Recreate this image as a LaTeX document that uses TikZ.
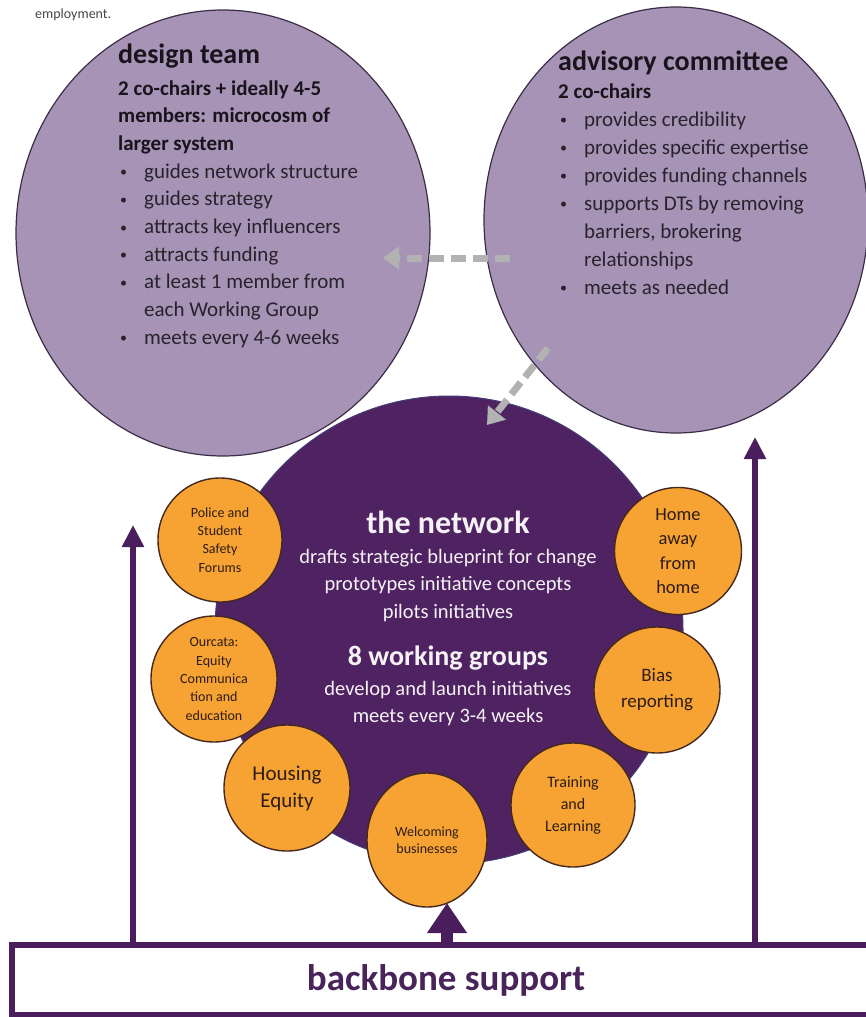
\documentclass[tikz,border=0pt]{standalone}
\usepackage{fontspec}
\setmainfont{Carlito}
\usetikzlibrary{shapes.geometric,arrows.meta}
\definecolor{lav}{RGB}{166,147,181}
\definecolor{lavline}{RGB}{60,45,70}
\definecolor{netc}{RGB}{79,34,97}
\definecolor{netedge}{RGB}{70,62,118}
\definecolor{org}{RGB}{246,163,51}
\definecolor{orgline}{RGB}{70,40,30}
\definecolor{orgtext}{RGB}{45,28,20}
\definecolor{purp}{RGB}{74,30,92}
\definecolor{bbtext}{RGB}{72,36,90}
\definecolor{greyc}{RGB}{178,178,178}
\definecolor{darktxt}{RGB}{25,20,28}
\definecolor{bodytxt}{RGB}{40,34,44}
\definecolor{captxt}{RGB}{70,70,70}
\definecolor{nettxt}{RGB}{245,242,246}
\newcommand{\bul}{\makebox[24pt][l]{\raisebox{1.5pt}{\fontsize{14}{14}\selectfont\textbullet}}}
\begin{document}
\begin{tikzpicture}[x=1pt,y=-1pt,
  lavender/.style={ellipse, fill=lav, draw=lavline, line width=1.2pt, inner sep=0pt},
  orangec/.style={circle, fill=org, draw=orgline, line width=1.4pt, inner sep=0pt, align=center, text=orgtext},
  headtxt/.style={anchor=base west, inner sep=0pt, font=\fontsize{28}{30}\selectfont\bfseries, text=darktxt},
  subtxt/.style={anchor=base west, inner sep=0pt, font=\fontsize{21}{25}\selectfont\bfseries, text=darktxt},
  bultxt/.style={anchor=base west, inner sep=0pt, font=\fontsize{21}{25}\selectfont, text=bodytxt},
  nethead/.style={anchor=base, inner sep=0pt, font=\fontsize{32}{34}\selectfont\bfseries, text=nettxt},
  netsub/.style={anchor=base, inner sep=0pt, font=\fontsize{28}{30}\selectfont\bfseries, text=nettxt},
  netline/.style={anchor=base, inner sep=0pt, font=\fontsize{20.5}{24}\selectfont, text=nettxt},
  greydash/.style={draw=greyc, line width=7pt, dash pattern=on 15pt off 7pt, -{Triangle[width=22pt,length=16pt]}},
  purparrow/.style={draw=purp, line width=6pt, -{Triangle[width=21pt,length=22pt]}}
]
\useasboundingbox (0,0) rectangle (866,1017);
\fill[white] (0,0) rectangle (866,1017);

% caption fragment
\node[anchor=base west, inner sep=0pt, font=\fontsize{14}{16}\selectfont, text=captxt] (cap) at (35,18) {employment.};

% the network
\node[circle, minimum size=468pt, fill=netc, draw=netedge, line width=1pt, inner sep=0pt] (net) at (449,630) {};

% design team
\node[lavender, minimum width=414pt, minimum height=446pt] (dt) at (223,233) {};
\node[headtxt] (dt0) at (118,63) {design team};
\node[subtxt] (dt1) at (118,95) {2 co-chairs + ideally 4-5};
\node[subtxt] (dt2) at (118,122.7) {members: microcosm of};
\node[subtxt] (dt3) at (118,150.4) {larger system};
\node[bultxt] (dt4) at (120,178.1) {\bul guides network structure};
\node[bultxt] (dt5) at (120,205.8) {\bul guides strategy};
\node[bultxt] (dt6) at (120,233.5) {\bul attracts key influencers};
\node[bultxt] (dt7) at (120,261.2) {\bul attracts funding};
\node[bultxt] (dt8) at (120,288.9) {\bul at least 1 member from};
\node[bultxt] (dt9) at (144,316.6) {each Working Group};
\node[bultxt] (dt10) at (120,344.3) {\bul meets every 4-6 weeks};

% advisory committee
\node[lavender, minimum width=384pt, minimum height=426pt] (ac) at (676,220) {};
\node[headtxt] (ac0) at (558,70) {advisory committee};
\node[subtxt] (ac1) at (558,98) {2 co-chairs};
\node[bultxt] (ac2) at (560,126) {\bul provides credibility};
\node[bultxt] (ac3) at (560,154) {\bul provides specific expertise};
\node[bultxt] (ac4) at (560,182) {\bul provides funding channels};
\node[bultxt] (ac5) at (560,210) {\bul supports DTs by removing};
\node[bultxt] (ac6) at (584,238) {barriers, brokering};
\node[bultxt] (ac7) at (584,266) {relationships};
\node[bultxt] (ac8) at (560,294) {\bul meets as needed};

% grey dashed connectors
\coordinate (h1) at (510,258);
\coordinate (h2) at (383,258);
\coordinate (d1) at (548,348);
\coordinate (d2) at (487,425);
\draw[greydash] (h1) -- (h2);
\draw[greydash] (d1) -- (d2);

% network text
\node[nethead] (n0) at (448,533) {the network};
\node[netline] (n1) at (448,563) {drafts strategic blueprint for change};
\node[netline] (n2) at (448,590) {prototypes initiative concepts};
\node[netline] (n3) at (448,618) {pilots initiatives};
\node[netsub] (n4) at (448,665) {8 working groups};
\node[netline] (n5) at (448,695) {develop and launch initiatives};
\node[netline] (n6) at (448,722) {meets every 3-4 weeks};

% working group circles
\node[orangec, minimum size=124pt, font=\fontsize{14}{18.3}\selectfont] (wg1) at (220,540) {Police and\\Student\\Safety\\Forums};
\node[orangec, minimum size=126pt, font=\fontsize{14}{18.3}\selectfont] (wg2) at (214,679) {Ourcata:\\Equity\\Communica\\tion and\\education};
\node[orangec, minimum size=126pt, font=\fontsize{21}{27}\selectfont] (wg3) at (287,788) {Housing\\Equity};
\node[orangec, ellipse, minimum width=120pt, minimum height=134pt, font=\fontsize{14}{17.5}\selectfont] (wg4) at (427,840) {Welcoming\\businesses};
\node[orangec, minimum size=124pt, font=\fontsize{16}{22}\selectfont] (wg5) at (573,805) {Training\\and\\Learning};
\node[orangec, minimum size=126pt, font=\fontsize{19}{26}\selectfont] (wg6) at (657,690) {Bias\\reporting};
\node[orangec, minimum size=127pt, font=\fontsize{18.5}{24.5}\selectfont] (wg7) at (678,551) {Home\\away\\from\\home};

% backbone
\node[draw=purp, line width=6pt, fill=white, minimum width=868pt, minimum height=70pt, inner sep=0pt, font=\fontsize{37}{40}\selectfont\bfseries, text=bbtext] (bb) at (446,980) {backbone support};

% purple arrows
\coordinate (ltip) at (133,525);
\coordinate (rtip) at (755,437);
\coordinate (ctip) at (447,903);
\draw[purparrow] (bb.north -| ltip) -- (ltip);
\draw[purparrow] (bb.north -| rtip) -- (rtip);
\draw[draw=purp, line width=12pt, -{Triangle[width=38pt,length=30pt]}] (bb.north -| ctip) -- (ctip);
\end{tikzpicture}
\end{document}
